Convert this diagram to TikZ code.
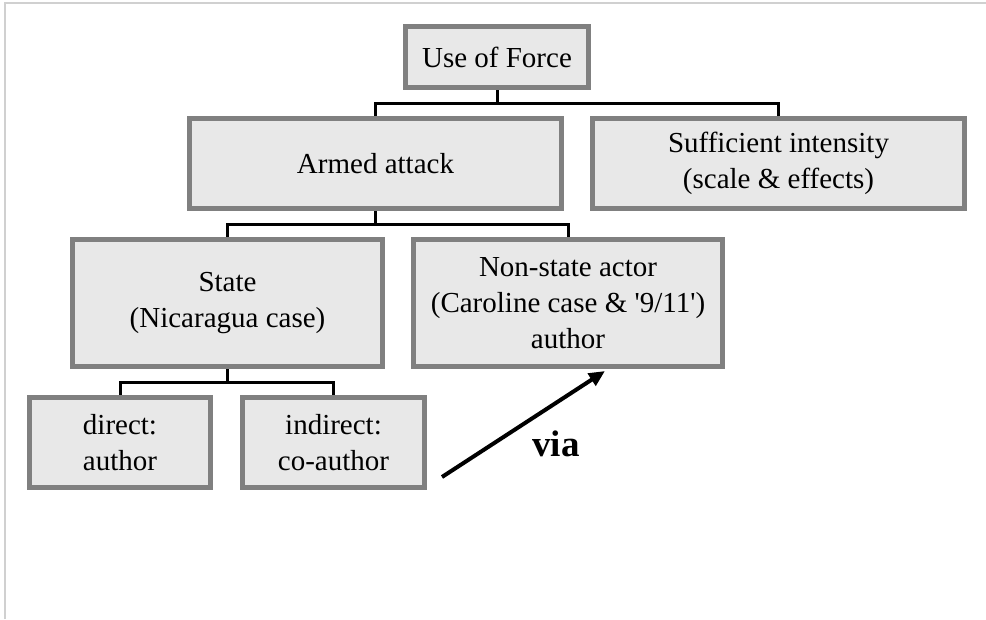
\documentclass[tikz,border=0pt]{standalone}
\usepackage{fontspec}
\setmainfont{Liberation Serif}
\usetikzlibrary{positioning, arrows.meta}
\definecolor{boxgray}{RGB}{232,232,232}
\definecolor{edgegray}{RGB}{128,128,128}
\definecolor{framegray}{RGB}{208,208,208}

\begin{document}
\begin{tikzpicture}[x=1pt, y=-1pt,
      box/.style={rectangle, draw=edgegray, fill=boxgray, line width=5pt, inner sep=0pt,
                  align=center, font=\fontsize{29}{36}\selectfont},
      conn/.style={black, line width=3pt},
      arr/.style={-{Triangle[length=16pt, width=14pt]}, line width=4pt, black}]
    \useasboundingbox (0,0) rectangle (986,619);
    \draw[framegray, line width=2pt] (5,619) -- (5,2.7) -- (986,2.7);
    % levels of the tree
    \node[box, minimum width=183pt, minimum height=61pt] (force) at (497,57) {Use of Force};
    \node[box, minimum width=372pt, minimum height=90pt] (armed) at (375.5,163.5) {Armed attack};
    \node[box, minimum width=372pt, minimum height=90pt] (intens) at (778.5,163.5) {Sufficient intensity\\(scale \& effects)};
    \node[box, minimum width=310pt, minimum height=127pt] (state) at (227.5,303) {State\\(Nicaragua case)};
    \node[box, minimum width=309pt, minimum height=127pt] (nonstate) at (568,303) {Non-state actor\\(Caroline case \& \textquotesingle 9/11\textquotesingle)\\author};
    \node[box, minimum width=181pt, minimum height=90pt] (direct) at (120,442.5) {direct:\\author};
    \node[box, minimum width=182pt, minimum height=90pt] (indirect) at (333.5,442.5) {indirect:\\co-author};
    % elbow connectors
    \draw[conn] (force.south) -- ++(0,13) coordinate (forcej) -| (armed.north);
    \draw[conn] (forcej) -| (intens.north);
    \draw[conn] (armed.south) -- ++(0,13) coordinate (armedj) -| (state.north);
    \draw[conn] (armedj) -| (nonstate.north);
    \draw[conn] (state.south) -- ++(0,13) coordinate (statej) -| (direct.north);
    \draw[conn] (statej) -| (indirect.north);
    % via arrow
    \coordinate (viatail) at (442,477);
    \coordinate (viatip) at (605,371);
    \draw[arr] (viatail) -- (viatip);
    \node[font=\bfseries\fontsize{37}{44}\selectfont, anchor=base] (via) at (556,456) {via};
  \end{tikzpicture}
\end{document}
